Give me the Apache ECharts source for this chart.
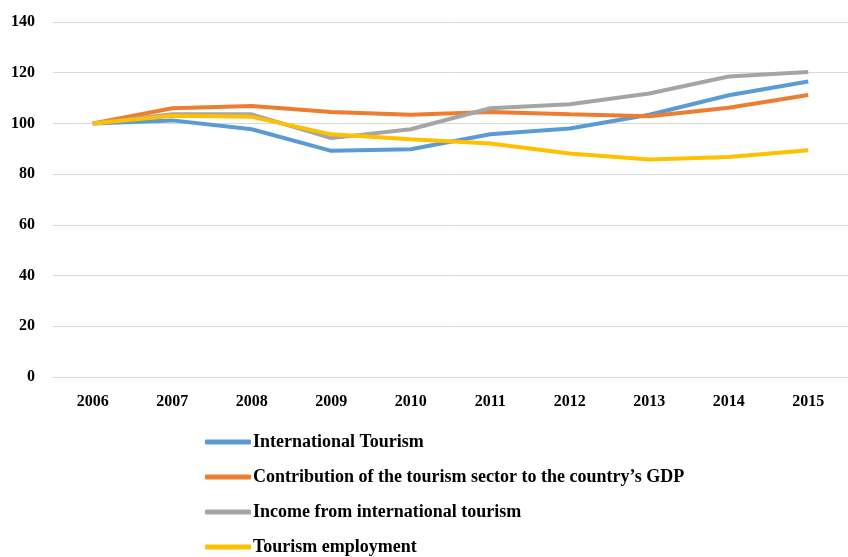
<!DOCTYPE html>
<html style="height: 100%">
<head>
	<meta charset="UTF-8">
	<title></title>
	<script src="https://cdn.jsdelivr.net/npm/echarts@6/dist/echarts.min.js"></script>
</head>
<body style="height: 100%; margin: 0; background: #fff">
	<div id="container" style="width: 848px; height: 557px;"></div>
</body>
<script type="text/javascript">
	var years = ['2006', '2007', '2008', '2009', '2010', '2011', '2012', '2013', '2014', '2015'];
	var intlTourism = [100, 101.2, 97.7, 89.2, 89.8, 95.7, 98.0, 103.4, 111.1, 116.5];
	var gdpContribution = [100, 106.0, 106.9, 104.5, 103.4, 104.5, 103.6, 102.8, 106.2, 111.2];
	var intlIncome = [100, 103.6, 103.6, 94.2, 97.7, 106.0, 107.6, 111.8, 118.5, 120.3];
	var employment = [100, 103.0, 102.6, 95.7, 93.8, 92.1, 88.1, 85.8, 86.8, 89.4];

	var seriesNames = [
		'International Tourism',
		'Contribution of the tourism sector to the country\u2019s GDP',
		'Income from international tourism',
		'Tourism employment'
	];

	var font = '"Liberation Serif", "DejaVu Serif", serif';
	var myChart = echarts.init(document.getElementById('container'));

	function line(name, data) {
		return {
			name: name,
			type: 'line',
			data: data,
			symbol: 'none',
			lineStyle: { width: 4 },
			animation: false
		};
	}

	var option = {
		color: ['#5B9BD5', '#ED7D31', '#A5A5A5', '#FFC000'],
		grid: { left: 53, right: -12, top: 22, bottom: 180 },
		legend: {
			orient: 'vertical',
			left: 205,
			top: 432,
			height: 140,
			padding: 0,
			icon: 'roundRect',
			itemWidth: 46,
			itemHeight: 5,
			itemGap: 15,
			textStyle: { fontFamily: font, fontWeight: 'bold', fontSize: 18, lineHeight: 20, color: '#000', padding: [0, 0, 0, -3] },
			data: seriesNames
		},
		xAxis: {
			type: 'category',
			data: years,
			axisTick: { show: false },
			axisLine: { lineStyle: { color: '#d9d9d9' } },
			axisLabel: { margin: 17, fontFamily: font, fontWeight: 'bold', fontSize: 16, color: '#000' }
		},
		yAxis: {
			type: 'value',
			min: 0,
			max: 140,
			interval: 20,
			axisLine: { show: false },
			axisTick: { show: false },
			splitLine: { lineStyle: { color: '#d9d9d9' } },
			axisLabel: { margin: 18, fontFamily: font, fontWeight: 'bold', fontSize: 16, color: '#000' }
		},
		series: [
			line(seriesNames[0], intlTourism),
			line(seriesNames[1], gdpContribution),
			line(seriesNames[2], intlIncome),
			line(seriesNames[3], employment)
		]
	};
	myChart.setOption(option);
</script>
</html>
